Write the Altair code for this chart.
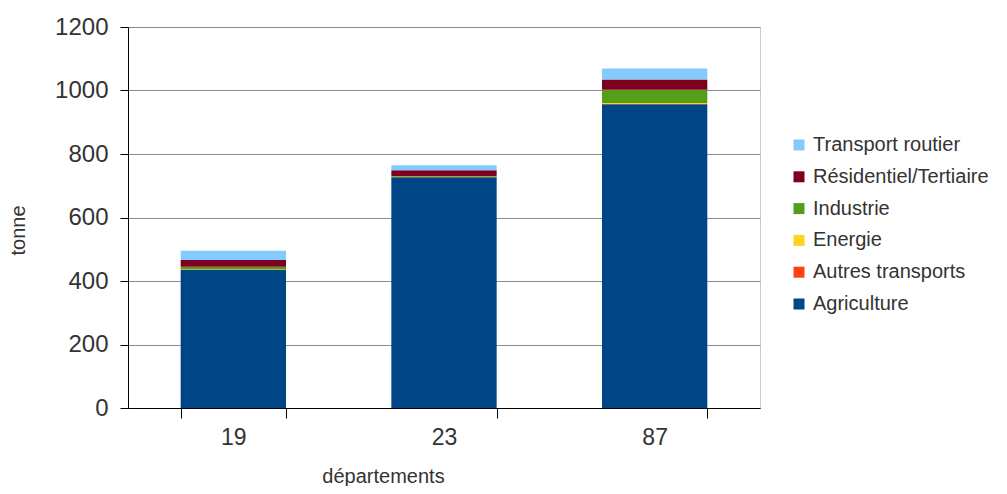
import altair as alt
import pandas as pd

departements = ["19", "23", "87"]
secteurs = ["Agriculture", "Autres transports", "Energie", "Industrie",
            "Résidentiel/Tertiaire", "Transport routier"]
agriculture = [435, 727, 957]
autres_transports = [0.5, 0.5, 0.5]
energie = [1, 1, 3]
industrie = [8, 2, 42]
residentiel = [22, 18, 32]
transport_routier = [29, 16, 35]
couleurs = ["#004586", "#ff420e", "#ffd320", "#579d1c", "#7e0021", "#83caff"]

series = [agriculture, autres_transports, energie, industrie, residentiel, transport_routier]
rows = []
for i, s in enumerate(secteurs):
    for j, d in enumerate(departements):
        rows.append({"departement": d, "secteur": s, "valeur": series[i][j], "ordre": i})
df = pd.DataFrame(rows)

FONT = "Liberation Sans"

chart = alt.Chart(df).mark_bar().encode(
    x=alt.X("departement:N", title="départements", sort=departements,
            scale=alt.Scale(paddingInner=0.5, paddingOuter=0.25),
            axis=alt.Axis(labelAngle=0, tickBand="extent", tickSize=10, labelPadding=8,
                          labelFontSize=23, titleFontSize=20, domainColor="black",
                          tickColor="black", titleFontWeight="normal",
                          titleX=255, titleY=68, titleBaseline="middle", titleAnchor="middle")),
    y=alt.Y("valeur:Q", title="tonne", stack="zero",
            scale=alt.Scale(domain=[0, 1200], nice=False),
            axis=alt.Axis(values=[0, 200, 400, 600, 800, 1000, 1200], format="d", tickSize=8,
                          labelPadding=12, labelFontSize=24, titleFontSize=20,
                          titleFontWeight="normal", domainColor="black", tickColor="black",
                          grid=True, gridColor="#8a8a8a",
                          titleX=-110, titleY=203, titleAngle=-90,
                          titleAlign="center", titleBaseline="middle")),
    color=alt.Color("secteur:N", sort=secteurs[::-1],
                    scale=alt.Scale(domain=secteurs[::-1], range=couleurs[::-1]),
                    legend=alt.Legend(title=None, orient="none", legendX=661, legendY=108,
                                      symbolType="square", symbolSize=121,
                                      symbolStrokeWidth=0, labelFontSize=20,
                                      labelLimit=300,
                                      labelOffset=4, rowPadding=11.8, padding=0)),
    order=alt.Order("ordre:Q", sort="ascending"),
).properties(
    width=632, height=381,
    autosize=alt.AutoSizeParams(type="none"),
    padding={"left": 120, "top": 19, "right": 235, "bottom": 78},
).configure(
    font=FONT,
).configure_axis(
    labelColor="#333333", titleColor="#333333", labelFont=FONT, titleFont=FONT,
).configure_legend(
    labelColor="#333333", labelFont=FONT,
).configure_view(
    stroke="#cccccc", strokeWidth=1,
)

chart.save("out.html", embed_options={"renderer": "svg", "actions": False})
